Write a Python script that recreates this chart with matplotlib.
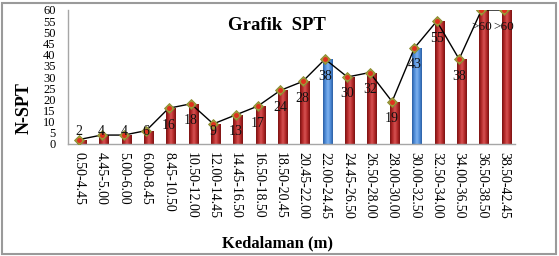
import matplotlib
matplotlib.use("Agg")
import matplotlib.pyplot as plt
import numpy as np
from matplotlib.patches import Rectangle
from matplotlib.colors import LinearSegmentedColormap

categories = ["0.50-4.45", "4.45-5.00", "5.00-6.00", "6.00-8.45", "8.45-10.50",
              "10.50-12.00", "12.00-14.45", "14.45-16.50", "16.50-18.50", "18.50-20.45",
              "20.45-22.00", "22.00-24.45", "24.45-26.50", "26.50-28.00", "28.00-30.00",
              "30.00-32.50", "32.50-34.00", "34.00-36.50", "36.50-38.50", "38.50-42.45"]
nspt = [2, 4, 4, 6, 16, 18, 9, 13, 17, 24, 28, 38, 30, 32, 19, 43, 55, 38, 60, 60]
value_labels = ["2", "4", "4", "6", "16", "18", "9", "13", "17", "24", "28", "38",
                "30", "32", "19", "43", "55", "38", ">60", ">60"]
highlight = [False] * 11 + [True] + [False] * 3 + [True] + [False] * 4

plt.rcParams['font.family'] = ['Liberation Serif', 'DejaVu Serif']

fig = plt.figure(figsize=(5.59, 2.56), dpi=100)
ax = fig.add_axes([68/559, 1-144/256, (515-68)/559, (144-10)/256])

n = len(categories)
x = np.arange(n)

red_cmap = LinearSegmentedColormap.from_list("r", ["#7a1212", "#b42a2a", "#d65252", "#b42a2a", "#7a1212"])
blue_cmap = LinearSegmentedColormap.from_list("b", ["#2c5fa3", "#4f8dda", "#7fb2ee", "#4f8dda", "#2c5fa3"])
grad = np.linspace(0, 1, 64).reshape(1, -1)

bw = 0.44
off = 0.12
bars = ax.bar(x + off, nspt, width=bw, color="none", edgecolor="none", zorder=2)
for b, h in zip(bars, highlight):
    x0, w, hgt = b.get_x(), b.get_width(), b.get_height()
    im = ax.imshow(grad, extent=[x0, x0 + w, 0, hgt], aspect="auto",
                   cmap=blue_cmap if h else red_cmap, zorder=2, interpolation="bilinear")
    rect = Rectangle((x0, 0), w, hgt, transform=ax.transData, facecolor="none", edgecolor="none")
    ax.add_patch(rect)
    im.set_clip_path(rect)

ax.plot(x, nspt, color="black", lw=1.0, zorder=3)
ax.plot(x, nspt, linestyle="none", marker="D", ms=5.5, mfc="#a09a3c", mec="#8a8a30", mew=0.6, zorder=4)
ax.plot(x, nspt, linestyle="none", marker="o", ms=2.5, mfc="#e0301e", mec="#e0301e", zorder=5)

for xi, v, lab in zip(x, nspt, value_labels):
    ly = max(v - 7.6, 5.8)
    ax.text(xi, ly, lab, ha="center", va="center", fontsize=9.5 if lab.startswith(">") else 10,
            color="#111111", zorder=6)

ax.set_xlim(-0.5, n - 0.5)
ax.set_ylim(0, 60)
ax.set_yticks(np.arange(0, 61, 5))
ax.set_xticks(x)
ax.set_xticklabels(categories, rotation=-90, fontsize=10)
ax.tick_params(axis="y", labelsize=9, length=0, pad=9)
ax.tick_params(axis="x", length=0, pad=6)
for s in ["top", "right"]:
    ax.spines[s].set_visible(False)
for s in ["left", "bottom"]:
    ax.spines[s].set_color("#a6a6a6")
    ax.spines[s].set_linewidth(1.0)

fig.text(277/559, 1-25/256, "Grafik  SPT", ha="center", va="center", fontsize=13.5, fontweight="bold")
fig.text(24/559, 1-108/256, "N-SPT", ha="center", va="center", rotation=90, fontsize=13, fontweight="bold")
fig.text(278/559, 1-243/256, "Kedalaman (m)", ha="center", va="center", fontsize=12, fontweight="bold")

fig.patches.append(Rectangle((2/559, 2/256), 554/559, 251/256, transform=fig.transFigure,
                             facecolor="none", edgecolor="#9a9a9a", lw=1.5))

fig.savefig("out.png", dpi=100)
